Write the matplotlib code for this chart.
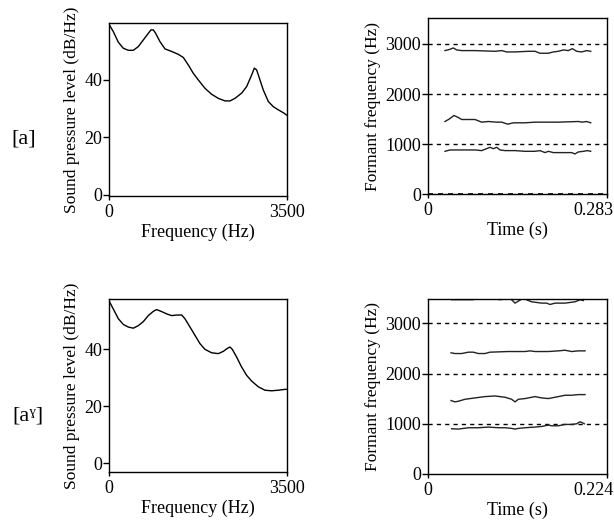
import matplotlib
matplotlib.use("Agg")
import matplotlib.pyplot as plt
import matplotlib.transforms as mtransforms

# ---------------- data ----------------
# Spectrum [a]
freq_a = [0, 85, 184, 282, 380, 478, 577, 675, 773, 826, 872, 918, 1003, 1101, 1232, 1363,
          1462, 1560, 1658, 1756, 1887, 2019, 2150, 2281, 2379, 2477, 2608, 2707, 2805, 2858,
          2903, 2969, 3034, 3133, 3231, 3329, 3428, 3500]
spl_a = [59.4, 56.8, 53.1, 51.0, 50.3, 50.3, 51.6, 53.9, 56.2, 57.4, 57.4, 56.2, 53.3, 50.8,
         49.9, 48.9, 47.8, 45.2, 42.3, 40.0, 37.1, 35.0, 33.6, 32.7, 32.7, 33.6, 35.4, 37.7,
         41.7, 44.1, 43.5, 40.0, 36.5, 32.5, 30.7, 29.6, 28.6, 27.7]

# Spectrum [aˠ]
freq_ag = [0, 85, 184, 282, 380, 478, 577, 675, 773, 872, 937, 1036, 1134, 1232, 1331, 1429,
           1494, 1593, 1691, 1789, 1887, 2018, 2150, 2248, 2333, 2379, 2425, 2510, 2608, 2707,
           2805, 2936, 3067, 3198, 3329, 3460, 3500]
spl_ag = [56.9, 54.0, 50.6, 48.6, 47.7, 47.3, 48.2, 49.6, 51.7, 53.2, 53.8, 53.1, 52.3, 51.7,
          51.9, 51.9, 50.6, 47.7, 44.8, 41.9, 39.9, 38.7, 38.4, 39.2, 40.3, 40.7, 39.9, 37.2,
          33.7, 30.8, 28.8, 26.8, 25.6, 25.4, 25.6, 25.9, 25.9]

# Formant tracks [a]
t_a_f3 = [0.0269, 0.0348, 0.0401, 0.0454, 0.0533, 0.0744, 0.1061, 0.1167, 0.1246, 0.1378,
          0.1589, 0.1695, 0.1774, 0.1906, 0.1985, 0.2064, 0.2144, 0.2223, 0.2286, 0.2355,
          0.2434, 0.2513, 0.2577]
f3_a = [2868, 2894, 2921, 2881, 2868, 2868, 2854, 2868, 2841, 2841, 2854, 2854, 2815, 2815,
        2841, 2854, 2881, 2868, 2907, 2854, 2841, 2868, 2854]
t_a_f2 = [0.0269, 0.0333, 0.0412, 0.0480, 0.0533, 0.0744, 0.0850, 0.0956, 0.1088, 0.1167,
          0.1262, 0.1352, 0.1536, 0.1695, 0.1853, 0.2064, 0.2381, 0.2444, 0.2513, 0.2577]
f2_a = [1450, 1497, 1570, 1530, 1490, 1490, 1437, 1450, 1437, 1437, 1397, 1424, 1424, 1437,
        1437, 1437, 1450, 1437, 1450, 1424]
t_a_f1 = [0.0269, 0.0348, 0.0480, 0.0744, 0.0850, 0.0929, 0.0982, 0.1035, 0.1088, 0.1140,
          0.1220, 0.1378, 0.1536, 0.1695, 0.1774, 0.1853, 0.1906, 0.1985, 0.2064, 0.2170,
          0.2276, 0.2328, 0.2381, 0.2461, 0.2524, 0.2577]
f1_a = [854, 881, 881, 881, 868, 907, 934, 907, 934, 881, 868, 868, 854, 854, 868, 828, 854,
        828, 828, 828, 828, 801, 841, 854, 868, 854]

# Formant tracks [aˠ]
t_ag_f4 = [0.0296, 0.0567, 0.0588, 0.0859, 0.0880, 0.0930, 0.0984, 0.1047, 0.1089, 0.1130,
           0.1172, 0.1214, 0.1256, 0.1297, 0.1360, 0.1422, 0.1485, 0.1527, 0.1589, 0.1714,
           0.1839, 0.1902, 0.1944]
f4_ag = [3472, 3472, 3560, 3560, 3474, 3474, 3560, 3469, 3403, 3442, 3482, 3482, 3455, 3429,
         3416, 3403, 3403, 3376, 3403, 3403, 3429, 3469, 3455]
t_ag_f3 = [0.0288, 0.0338, 0.0421, 0.0505, 0.0567, 0.0630, 0.0713, 0.0776, 0.1005, 0.1214,
           0.1276, 0.1339, 0.1422, 0.1506, 0.1631, 0.1714, 0.1798, 0.1881, 0.1965]
f3_ag = [2413, 2399, 2399, 2426, 2426, 2399, 2399, 2426, 2439, 2439, 2452, 2439, 2439, 2439,
         2452, 2465, 2439, 2452, 2452]
t_ag_f2 = [0.0288, 0.0338, 0.0380, 0.0463, 0.0588, 0.0713, 0.0838, 0.0964, 0.1047, 0.1089,
           0.1130, 0.1214, 0.1339, 0.1422, 0.1506, 0.1589, 0.1672, 0.1714, 0.1798, 0.1881,
           0.1965]
f2_ag = [1462, 1436, 1449, 1488, 1515, 1541, 1554, 1528, 1488, 1436, 1488, 1502, 1541, 1515,
         1502, 1528, 1554, 1568, 1568, 1581, 1581]
t_ag_f1 = [0.0296, 0.0380, 0.0505, 0.0630, 0.0755, 0.0880, 0.0964, 0.1047, 0.1089, 0.1130,
           0.1214, 0.1339, 0.1422, 0.1506, 0.1547, 0.1631, 0.1714, 0.1798, 0.1861, 0.1902,
           0.1923, 0.1956]
f1_ag = [901, 894, 921, 921, 934, 921, 921, 908, 894, 908, 921, 934, 947, 974, 960, 960, 987,
         987, 1000, 1040, 1026, 1000]

row_labels = ["[a]", "[a\u02e0]"]
spec_yticks = [0, 20, 40]
formant_yticks = [0, 1000, 2000, 3000]
dur_a = 0.283
dur_ag = 0.224
fmax = 3500

# ---------------- style ----------------
plt.rcParams['font.family'] = ['Liberation Serif', 'DejaVu Serif']
plt.rcParams['font.size'] = 13
plt.rcParams['axes.linewidth'] = 1.0

fig = plt.figure(figsize=(6.14, 5.2), dpi=100)

ax_tl = fig.add_axes([0.1775, 0.6231, 0.2899, 0.3327])
ax_tr = fig.add_axes([0.6971, 0.6269, 0.2910, 0.3385])
ax_bl = fig.add_axes([0.1775, 0.0929, 0.2899, 0.3315])
ax_br = fig.add_axes([0.6971, 0.0885, 0.2915, 0.3360])


def style_spec(ax, f, s, ylim):
    ax.plot(f, s, color='black', lw=1.0)
    ax.set_xlim(0, fmax)
    ax.set_ylim(*ylim)
    ax.set_xticks([0, fmax])
    ax.set_xticklabels(["0", str(fmax)])
    ax.set_yticks(spec_yticks)
    ax.set_xlabel("Frequency (Hz)", labelpad=2)
    ax.set_ylabel("Sound pressure level (dB/Hz)", fontsize=12.5, labelpad=3)
    ax.tick_params(axis='y', length=4, width=1, pad=1, direction='out')
    ax.tick_params(axis='x', length=3, width=1, pad=3, direction='out')


def style_formant(ax, tracks, dur, ylim, zero_dash):
    for y in formant_yticks:
        if y == 0 and not zero_dash:
            continue
        ax.axhline(y, color='black', lw=1.2 if y == 0 else 1.0, ls=(0, (3, 3)),
                   zorder=3 if y == 0 else 1, clip_on=False)
    for t, f in tracks:
        ax.plot(t, f, color='#222222', lw=1.0)
    ax.set_xlim(0, dur)
    ax.set_ylim(*ylim)
    ax.set_xticks([0, dur])
    ax.set_xticklabels(["0", f"{dur:g}"])
    ax.set_yticks(formant_yticks)
    ax.set_xlabel("Time (s)", labelpad=2)
    ax.set_ylabel("Formant frequency (Hz)", fontsize=12.5, labelpad=3)
    ax.tick_params(axis='y', length=4, width=1, pad=1, direction='out')
    ax.tick_params(axis='x', length=3, width=1, pad=3, direction='out')
    lbls = ax.get_xticklabels()
    lbls[-1].set_horizontalalignment('right')
    offset = mtransforms.ScaledTranslation(7 / 100, 0, fig.dpi_scale_trans)
    lbls[-1].set_transform(lbls[-1].get_transform() + offset)


style_spec(ax_tl, freq_a, spl_a, (-0.35, 59.8))
style_spec(ax_bl, freq_ag, spl_ag, (-2.9, 57.4))
style_formant(ax_tr, [(t_a_f3, f3_a), (t_a_f2, f2_a), (t_a_f1, f1_a)], dur_a, (0, 3520), True)
style_formant(ax_br, [(t_ag_f4, f4_ag), (t_ag_f3, f3_ag), (t_ag_f2, f2_ag), (t_ag_f1, f1_ag)],
              dur_ag, (0, 3480), False)

fig.text(0.039, 0.733, row_labels[0], fontsize=16, ha='center', va='center')
fig.text(0.046, 0.200, row_labels[1], fontsize=16, ha='center', va='center')

fig.savefig("out.png", dpi=100)
